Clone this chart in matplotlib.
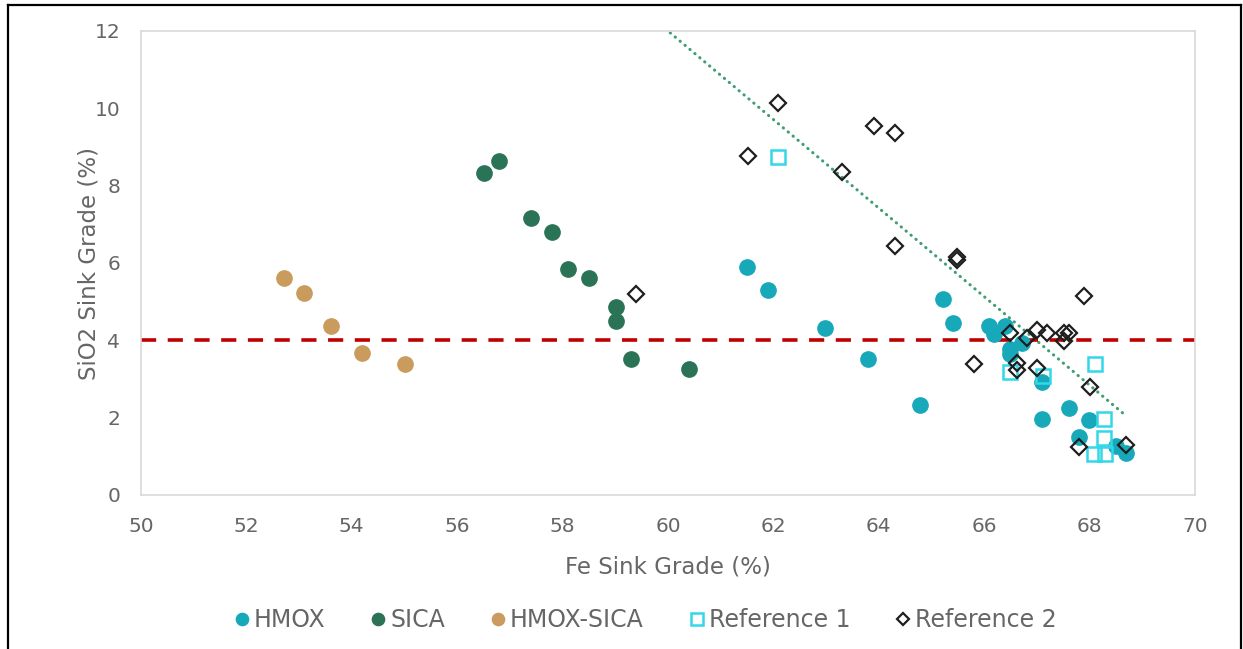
import matplotlib
matplotlib.use("Agg")
import matplotlib.pyplot as plt
from matplotlib.lines import Line2D
import numpy as np

plt.rcParams['font.family'] = ['DejaVu Sans']

# ---- data ----
hmox_fe = [61.50, 61.90, 62.98, 63.80, 64.79, 65.21, 65.40, 66.10, 66.19, 66.39,
           66.49, 66.49, 66.71, 67.09, 67.09, 67.61, 67.99, 67.80, 68.51, 68.70]
hmox_si = [5.90, 5.30, 4.32, 3.52, 2.33, 5.07, 4.44, 4.37, 4.17, 4.37,
           3.78, 3.64, 3.94, 2.92, 1.96, 2.26, 1.94, 1.50, 1.27, 1.09]

sica_fe = [56.51, 56.80, 57.40, 57.79, 58.11, 58.50, 59.01, 59.01, 59.30, 60.39]
sica_si = [8.32, 8.65, 7.16, 6.79, 5.84, 5.60, 4.87, 4.50, 3.52, 3.25]

hs_fe = [52.71, 53.10, 53.61, 54.19, 55.00]
hs_si = [5.60, 5.23, 4.38, 3.68, 3.38]

ref1_fe = [62.09, 66.49, 67.11, 68.10, 68.28, 68.28, 68.09, 68.30]
ref1_si = [8.74, 3.19, 3.08, 3.38, 1.97, 1.48, 1.06, 1.06]

ref2_fe = [59.39, 61.51, 62.09, 63.31, 63.90, 64.31, 64.31, 65.49, 65.49, 67.90,
           65.80, 66.49, 66.81, 67.01, 67.20, 67.51, 67.60, 67.51, 66.62, 66.62,
           67.00, 68.00, 67.80, 68.70]
ref2_si = [5.20, 8.77, 10.13, 8.35, 9.54, 9.35, 6.43, 6.16, 6.08, 5.14,
           3.38, 4.18, 4.05, 4.27, 4.18, 4.18, 4.20, 3.97, 3.41, 3.23,
           3.29, 2.79, 1.23, 1.29]

threshold = 4.0
trend_x = [59.39, 68.70]
trend_slope = -1.145
trend_intercept = 12.0 + 1.145 * 60.0

x_ticks = [50, 52, 54, 56, 58, 60, 62, 64, 66, 68, 70]
y_ticks = [0, 2, 4, 6, 8, 10, 12]

# ---- figure ----
W, H = 1243, 649
fig = plt.figure(figsize=(W / 100, H / 100), dpi=100)
ax = fig.add_axes([141 / W, 1 - 495 / H, (1195 - 141) / W, (495 - 31) / H])

text_color = '#666666'
c_hmox = '#17A9B9'
c_sica = '#2A7357'
c_hs = '#C99C5E'
c_ref1 = '#33D7E8'
c_ref2 = '#1E1E1E'

ms_circle = 11
ax.plot(hmox_fe, hmox_si, 'o', ms=ms_circle, color=c_hmox, mec=c_hmox, label='HMOX', zorder=3)
ax.plot(sica_fe, sica_si, 'o', ms=ms_circle, color=c_sica, mec=c_sica, label='SICA', zorder=3)
ax.plot(hs_fe, hs_si, 'o', ms=ms_circle, color=c_hs, mec=c_hs, label='HMOX-SICA', zorder=3)
ax.plot(ref1_fe, ref1_si, 's', ms=10, mfc='none', mec=c_ref1, mew=1.8, label='Reference 1', zorder=4)
ax.plot(ref2_fe, ref2_si, 'D', ms=8, mfc='none', mec=c_ref2, mew=1.6, label='Reference 2', zorder=5)

tx = np.array(trend_x)
ax.plot(tx, trend_intercept + trend_slope * tx, color='#3E9E72', lw=2.2,
        linestyle=(0, (0.1, 2.0)), dash_capstyle='round', zorder=2)

ax.axhline(threshold, color='#C00000', lw=2.6, dashes=(4.2, 3.2), zorder=2)

ax.set_xlim(50, 70)
ax.set_ylim(0, 12)
ax.set_xticks(x_ticks)
ax.set_yticks(y_ticks)
ax.tick_params(length=0, labelsize=14.5, colors=text_color)
ax.tick_params(axis='x', pad=16)
ax.tick_params(axis='y', pad=15)
for s in ax.spines.values():
    s.set_color('#D9D9D9')
    s.set_linewidth(1.2)

ax.set_xlabel('Fe Sink Grade (%)', fontsize=16.5, color=text_color, labelpad=14)
ax.set_ylabel('SiO2 Sink Grade (%)', fontsize=16.5, color=text_color)
ax.yaxis.set_label_coords((101 - 141) / (1195 - 141), 0.5)

handles, labels = ax.get_legend_handles_labels()
leg = fig.legend(handles, labels, loc='center', bbox_to_anchor=(0.518, 1 - 620 / H), ncol=5,
                 frameon=False, fontsize=17, handletextpad=0.05, columnspacing=1.8,
                 markerscale=0.8, handlelength=0.9)
for t in leg.get_texts():
    t.set_color(text_color)

# outer black border
bx0, bx1, by1 = 8 / W, 1241 / W, 1 - 5 / H
for xs, ys in [([bx0, bx1], [by1, by1]), ([bx0, bx0], [by1, -0.05]), ([bx1, bx1], [by1, -0.05])]:
    fig.add_artist(Line2D(xs, ys, color='black', lw=1.6, transform=fig.transFigure))

fig.savefig('out.png', dpi=100)
